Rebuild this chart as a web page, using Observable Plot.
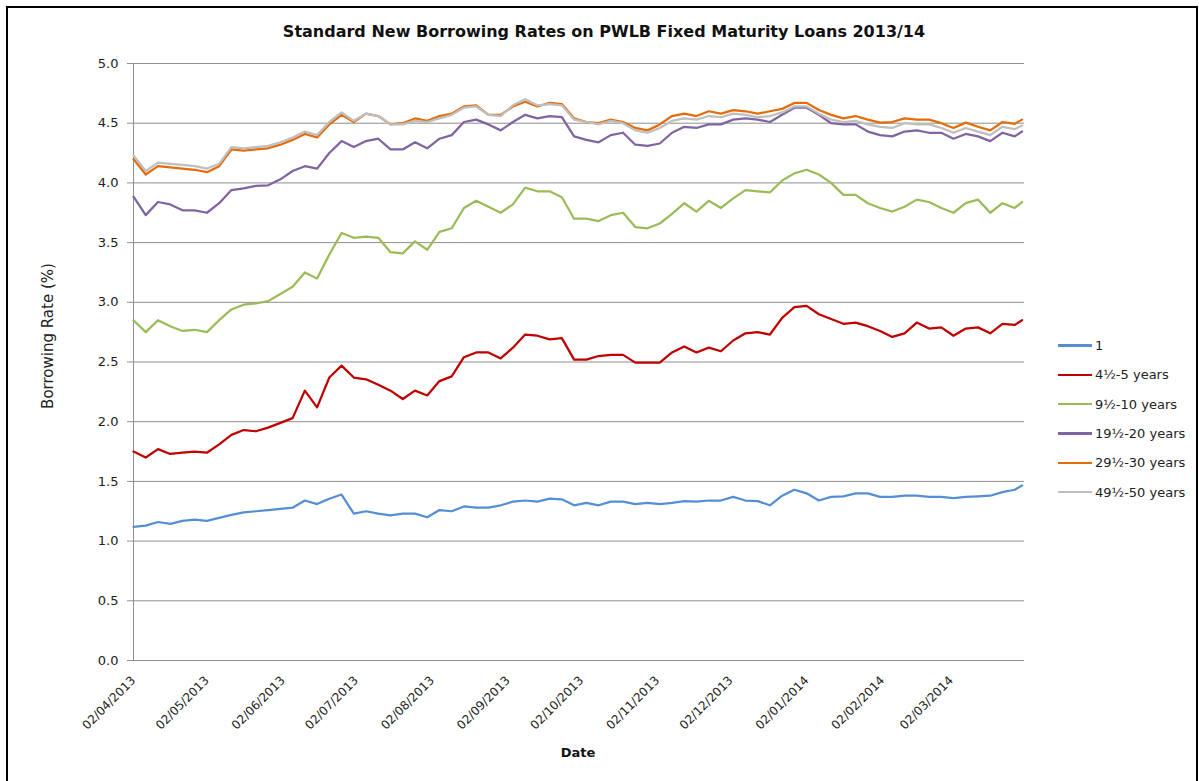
<!DOCTYPE html>
<html><head><meta charset="utf-8">
<script src="https://cdn.jsdelivr.net/npm/d3@7"></script>
<script src="https://cdn.jsdelivr.net/npm/@observablehq/plot@0.6"></script>
<style>
body{margin:0;background:#fff;font-family:"DejaVu Sans",sans-serif;}
#wrap{position:relative;width:1199px;height:781px;overflow:hidden;background:#fff;}
#frame{position:absolute;left:6px;top:6px;width:1188px;height:820px;border:2px solid #000;pointer-events:none;}
#title{position:absolute;top:22px;left:0;width:1208px;text-align:center;font-weight:bold;font-size:16px;color:#111;white-space:nowrap;}
#ylab{position:absolute;left:48px;top:336px;transform:translate(-50%,-50%) rotate(-90deg);font-size:15px;color:#222;white-space:nowrap;}
#xlab{position:absolute;left:578px;top:745px;transform:translateX(-50%);font-size:13px;font-weight:bold;color:#111;}
#legend{position:absolute;left:1058px;top:331px;font-size:13px;color:#222;}
.item{height:29.3px;display:flex;align-items:center;margin-top:0;}
.sw{width:34px;height:2.5px;margin-right:3px;}
#chart{position:absolute;left:0;top:0;}
</style></head>
<body>
<div id="wrap">
  <div id="chart"></div>
  <div id="title">Standard New Borrowing Rates on PWLB Fixed Maturity Loans 2013/14</div>
  <div id="ylab">Borrowing Rate (%)</div>
  <div id="xlab">Date</div>
  <div id="legend"></div>
  <div id="frame"></div>
</div>
<script>
const seriesNames = ["1", "4½-5 years", "9½-10 years", "19½-20 years", "29½-30 years", "49½-50 years"];
const seriesColors = ["#558ED5", "#C00000", "#9BBB59", "#8064A2", "#E46C0A", "#BFBFBF"];

const dates = ["2013-04-02","2013-04-07","2013-04-12","2013-04-17","2013-04-22","2013-04-27","2013-05-02","2013-05-07","2013-05-12","2013-05-17","2013-05-22","2013-05-27","2013-06-01","2013-06-06","2013-06-11","2013-06-16","2013-06-21","2013-06-26","2013-07-01","2013-07-06","2013-07-11","2013-07-16","2013-07-21","2013-07-26","2013-07-31","2013-08-05","2013-08-10","2013-08-15","2013-08-20","2013-08-25","2013-08-30","2013-09-04","2013-09-09","2013-09-14","2013-09-19","2013-09-24","2013-09-29","2013-10-04","2013-10-09","2013-10-14","2013-10-19","2013-10-24","2013-10-29","2013-11-03","2013-11-08","2013-11-13","2013-11-18","2013-11-23","2013-11-28","2013-12-03","2013-12-08","2013-12-13","2013-12-18","2013-12-23","2013-12-28","2014-01-02","2014-01-07","2014-01-12","2014-01-17","2014-01-22","2014-01-27","2014-02-01","2014-02-06","2014-02-11","2014-02-16","2014-02-21","2014-02-26","2014-03-03","2014-03-08","2014-03-13","2014-03-18","2014-03-23","2014-03-28","2014-03-31"];

const rate1y = [1.12,1.13,1.16,1.145,1.17,1.18,1.17,1.195,1.22,1.24,1.25,1.26,1.27,1.28,1.34,1.31,1.355,1.39,1.23,1.25,1.23,1.215,1.23,1.23,1.20,1.26,1.25,1.29,1.28,1.28,1.30,1.33,1.34,1.33,1.355,1.35,1.30,1.32,1.30,1.33,1.33,1.31,1.32,1.31,1.32,1.335,1.33,1.34,1.34,1.37,1.34,1.335,1.30,1.38,1.43,1.40,1.34,1.37,1.375,1.40,1.40,1.37,1.37,1.38,1.38,1.37,1.37,1.36,1.37,1.375,1.38,1.41,1.43,1.465];

const rate5y = [1.75,1.70,1.77,1.73,1.74,1.75,1.74,1.81,1.89,1.93,1.92,1.95,1.99,2.03,2.26,2.12,2.37,2.47,2.37,2.355,2.31,2.26,2.19,2.26,2.22,2.34,2.38,2.54,2.58,2.58,2.53,2.62,2.73,2.72,2.69,2.70,2.52,2.52,2.55,2.56,2.56,2.495,2.495,2.495,2.58,2.63,2.58,2.62,2.59,2.68,2.74,2.75,2.73,2.87,2.96,2.97,2.90,2.86,2.82,2.83,2.80,2.76,2.71,2.74,2.83,2.78,2.79,2.72,2.78,2.79,2.74,2.82,2.81,2.85];

const rate10y = [2.85,2.75,2.85,2.80,2.76,2.77,2.75,2.85,2.94,2.98,2.99,3.01,3.07,3.13,3.25,3.20,3.40,3.58,3.54,3.55,3.54,3.42,3.41,3.51,3.44,3.59,3.62,3.79,3.85,3.80,3.75,3.82,3.96,3.93,3.93,3.88,3.70,3.70,3.68,3.73,3.75,3.63,3.62,3.66,3.74,3.83,3.76,3.85,3.79,3.87,3.94,3.93,3.92,4.02,4.08,4.11,4.07,4.00,3.90,3.90,3.83,3.79,3.76,3.80,3.86,3.84,3.79,3.75,3.83,3.86,3.75,3.83,3.79,3.84];

const rate20y = [3.885,3.73,3.84,3.82,3.77,3.77,3.75,3.83,3.94,3.955,3.975,3.98,4.03,4.10,4.14,4.12,4.25,4.35,4.30,4.35,4.37,4.28,4.28,4.34,4.29,4.37,4.40,4.51,4.53,4.49,4.44,4.51,4.57,4.54,4.56,4.55,4.39,4.36,4.34,4.40,4.42,4.32,4.31,4.33,4.42,4.47,4.46,4.49,4.49,4.53,4.54,4.53,4.51,4.57,4.63,4.63,4.57,4.50,4.49,4.49,4.43,4.40,4.39,4.43,4.44,4.42,4.42,4.37,4.41,4.39,4.35,4.42,4.39,4.43];

const rate30y = [4.20,4.07,4.14,4.13,4.12,4.11,4.09,4.14,4.28,4.27,4.28,4.29,4.32,4.36,4.41,4.38,4.49,4.57,4.51,4.58,4.56,4.49,4.50,4.54,4.52,4.56,4.58,4.64,4.65,4.57,4.57,4.64,4.68,4.64,4.67,4.66,4.54,4.51,4.50,4.53,4.51,4.46,4.44,4.49,4.56,4.58,4.56,4.60,4.58,4.61,4.60,4.58,4.60,4.62,4.67,4.67,4.61,4.57,4.54,4.56,4.53,4.505,4.51,4.54,4.53,4.53,4.50,4.46,4.505,4.47,4.44,4.51,4.495,4.53];

const rate50y = [4.23,4.10,4.17,4.16,4.15,4.14,4.12,4.16,4.30,4.29,4.30,4.31,4.34,4.38,4.43,4.40,4.51,4.59,4.52,4.58,4.56,4.49,4.49,4.52,4.51,4.54,4.57,4.63,4.64,4.57,4.56,4.65,4.70,4.65,4.66,4.65,4.53,4.51,4.49,4.52,4.50,4.44,4.42,4.46,4.52,4.54,4.53,4.56,4.55,4.58,4.57,4.55,4.56,4.59,4.64,4.64,4.58,4.53,4.51,4.52,4.49,4.47,4.46,4.50,4.49,4.49,4.46,4.42,4.46,4.43,4.40,4.47,4.45,4.48];

const xTickLabels = ["02/04/2013","02/05/2013","02/06/2013","02/07/2013","02/08/2013","02/09/2013","02/10/2013","02/11/2013","02/12/2013","02/01/2014","02/02/2014","02/03/2014"];
const yTicks = [0, 0.5, 1, 1.5, 2, 2.5, 3, 3.5, 4, 4.5, 5];

const seriesValues = [rate1y, rate5y, rate10y, rate20y, rate30y, rate50y];
const parseDate = d3.utcParse("%Y-%m-%d");
const parseTick = d3.utcParse("%d/%m/%Y");
const fmtTick = d3.utcFormat("%d/%m/%Y");
const xTicks = xTickLabels.map(parseTick);

const rows = [];
seriesNames.forEach((name, i) => {
  seriesValues[i].forEach((v, j) => rows.push({series: name, date: parseDate(dates[j]), value: v}));
});

const gridColor = "#8f8f8f";
const chart = Plot.plot({
  width: 1199,
  height: 781,
  marginLeft: 133,
  marginRight: 175,
  marginTop: 63,
  marginBottom: 121,
  style: {fontFamily: "DejaVu Sans, sans-serif", fontSize: "13px", background: "transparent", color: "#222"},
  x: {type: "utc", domain: [parseDate("2013-04-02"), parseDate("2014-04-01")]},
  y: {domain: [0, 5]},
  color: {domain: seriesNames, range: seriesColors},
  marks: [
    Plot.gridY(yTicks, {stroke: gridColor, strokeOpacity: 1}),
    Plot.ruleX([parseDate("2013-04-02")], {stroke: gridColor}),
    Plot.axisY(yTicks, {tickFormat: d => d.toFixed(1), tickSize: 6, tickPadding: 9, stroke: gridColor, fill: "#222", label: null, fontSize: 13}),
    Plot.axisX(xTicks, {tickFormat: fmtTick, tickRotate: -45, tickSize: 0, tickPadding: 18, fill: "#222", label: null, fontSize: 12}),
    Plot.line(rows, {x: "date", y: "value", z: "series", stroke: "series", strokeWidth: 2.25, strokeLinejoin: "round"})
  ]
});
document.getElementById("chart").appendChild(chart);

const legend = document.getElementById("legend");
seriesNames.forEach((name, i) => {
  const item = document.createElement("div");
  item.className = "item";
  const sw = document.createElement("span");
  sw.className = "sw";
  sw.style.background = seriesColors[i];
  const label = document.createElement("span");
  label.textContent = name;
  item.appendChild(sw);
  item.appendChild(label);
  legend.appendChild(item);
});
</script>
</body></html>
